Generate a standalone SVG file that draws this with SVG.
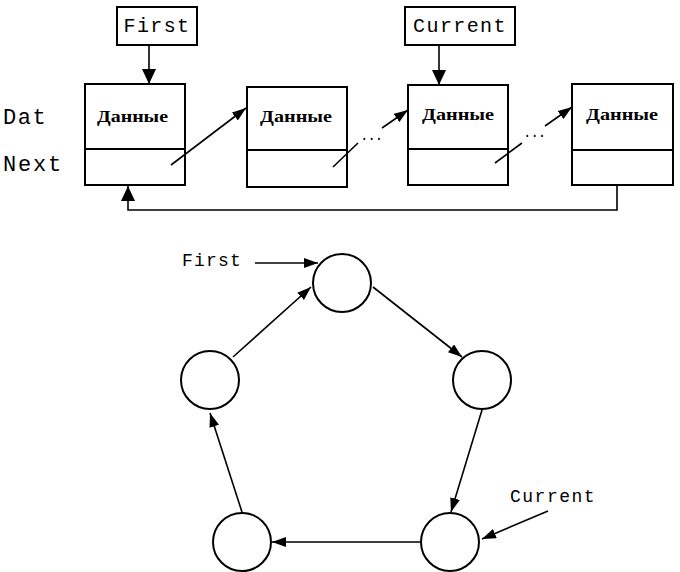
<svg xmlns="http://www.w3.org/2000/svg" width="680" height="572" viewBox="0 0 680 572">
<style>
.box{fill:#fff;stroke:#000;stroke-width:2}
.ln{fill:none;stroke:#000;stroke-width:1.6}
.mono{font-family:"Liberation Mono","Courier New",monospace;fill:#000}
.dat{font-family:"Liberation Serif","Times New Roman",serif;font-size:17px;fill:#000;font-weight:bold}
.circ{fill:#fff;stroke:#000;stroke-width:2}
</style>
<defs>
<marker id="big" markerUnits="userSpaceOnUse" markerWidth="15" markerHeight="14" refX="15" refY="7" orient="auto"><path d="M0,0 L15,7 L0,14 z" fill="#000"/></marker>
<marker id="sm" markerUnits="userSpaceOnUse" markerWidth="14" markerHeight="10" refX="14" refY="5" orient="auto"><path d="M0,0 L14,5 L0,10 z" fill="#000"/></marker>
</defs>
<rect width="680" height="572" fill="#fff"/>
<text class="mono" x="3" y="124" font-size="22" letter-spacing="1.5">Dat</text>
<text class="mono" x="3" y="171" font-size="22" letter-spacing="1.8">Next</text>
<g id="firstLabel"><rect class="box" x="117" y="7" width="80" height="38"/><text class="mono" x="157" y="32" font-size="20" letter-spacing="1.4" text-anchor="middle">First</text></g>
<g id="currentLabel"><rect class="box" x="405" y="7" width="110" height="38"/><text class="mono" x="460" y="32" font-size="20" letter-spacing="1.4" text-anchor="middle">Current</text></g>
<g id="node1"><rect class="box" x="85" y="84" width="100" height="101"/><line class="box" x1="85" y1="149" x2="185" y2="149"/><text class="dat" x="97" y="122" textLength="71" lengthAdjust="spacingAndGlyphs">Данные</text></g>
<g id="node2"><rect class="box" x="247" y="87" width="100" height="100"/><line class="box" x1="247" y1="150" x2="347" y2="150"/><text class="dat" x="260" y="122" textLength="72" lengthAdjust="spacingAndGlyphs">Данные</text></g>
<g id="node3"><rect class="box" x="408" y="85" width="100" height="100"/><line class="box" x1="408" y1="149" x2="508" y2="149"/><text class="dat" x="422" y="120" textLength="72" lengthAdjust="spacingAndGlyphs">Данные</text></g>
<g id="node4"><rect class="box" x="572" y="84" width="101" height="101"/><line class="box" x1="572" y1="150" x2="673" y2="150"/><text class="dat" x="586" y="120" textLength="72" lengthAdjust="spacingAndGlyphs">Данные</text></g>
<g id="c1"><circle class="circ" cx="342" cy="283" r="29"/></g>
<g id="c2"><circle class="circ" cx="482" cy="380" r="29"/></g>
<g id="c3"><circle class="circ" cx="450" cy="542" r="29"/></g>
<g id="c4"><circle class="circ" cx="242" cy="542" r="29"/></g>
<g id="c5"><circle class="circ" cx="210" cy="380" r="29"/></g>
<text class="mono" x="182" y="266" font-size="18" letter-spacing="1.2">First</text>
<text class="mono" x="510" y="502" font-size="18" letter-spacing="1.5">Current</text>
<g id="connectors">
<line class="ln" x1="149" y1="45" x2="149" y2="84" marker-end="url(#big)"/>
<line class="ln" x1="439" y1="45" x2="439" y2="85" marker-end="url(#big)"/>
<line class="ln" x1="171" y1="165" x2="246" y2="108" marker-end="url(#sm)"/>
<line class="ln" x1="333" y1="167" x2="358" y2="143"/>
<text class="mono" x="360" y="140" font-size="14" letter-spacing="-1">...</text>
<line class="ln" x1="382" y1="128" x2="408" y2="110" marker-end="url(#sm)"/>
<line class="ln" x1="495" y1="163" x2="522" y2="143"/>
<text class="mono" x="523" y="137" font-size="14" letter-spacing="-1">...</text>
<line class="ln" x1="545" y1="126" x2="572" y2="107" marker-end="url(#sm)"/>
<polyline class="ln" points="617,185 617,210 128,210 128,186" marker-end="url(#big)"/>
<line class="ln" x1="255" y1="263" x2="318" y2="263" marker-end="url(#sm)"/>
<line class="ln" x1="548" y1="511" x2="482" y2="539" marker-end="url(#sm)"/>
<line class="ln" x1="233" y1="357" x2="311" y2="287" marker-end="url(#sm)"/>
<line class="ln" x1="373" y1="287" x2="462" y2="357" marker-end="url(#sm)"/>
<line class="ln" x1="482" y1="410" x2="451" y2="512" marker-end="url(#sm)"/>
<line class="ln" x1="421" y1="542" x2="272" y2="542" marker-end="url(#sm)"/>
<line class="ln" x1="242" y1="512" x2="210" y2="413" marker-end="url(#sm)"/>
</g>
</svg>
